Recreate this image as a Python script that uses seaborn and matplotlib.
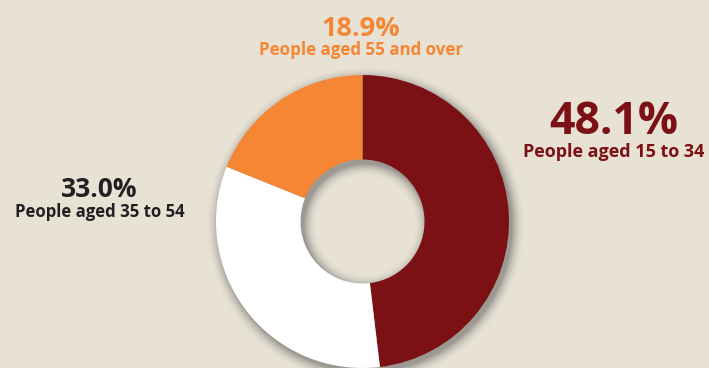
import numpy as np
import matplotlib
matplotlib.use("Agg")
import matplotlib.pyplot as plt
import seaborn as sns

# ---- data ----
groups = ["People aged 15 to 34", "People aged 35 to 54", "People aged 55 and over"]
shares = [48.1, 33.0, 18.9]
pct_labels = ["48.1%", "33.0%", "18.9%"]

BG = "#e8e2d5"
colors = ["#7b1114", "#ffffff", "#f58634"]
text_colors = ["#7b1114", "#231f20", "#f58634"]

sns.set_theme(style="white")
plt.rcParams["font.family"] = ["Open Sans", "DejaVu Sans"]

W, H = 709, 368
fig = plt.figure(figsize=(W / 100, H / 100), dpi=100, facecolor=BG)
ax = fig.add_axes([0, 0, 1, 1])
ax.set_facecolor(BG)
ax.set_xlim(0, W)
ax.set_ylim(0, H)
ax.set_aspect("equal")
ax.axis("off")

cx, cy = 362.5, H - 221.5
R = 146.5
r_in = 62.0

# soft drop shadow (decoration)
xs = np.linspace(0, W, W)
ys = np.linspace(0, H, H)
X, Y = np.meshgrid(xs, ys)
dx, dy = 3.0, -4.0
rr = np.hypot(X - cx - dx, Y - cy - dy)
d = np.maximum(rr - R, r_in - rr)
blur = 14.0
alpha = np.clip(1 - np.clip(d, 0, None) / blur, 0, 1) ** 2 * 0.45
rgba = np.zeros((H, W, 4))
rgba[..., :3] = 0.25
rgba[..., 3] = alpha
ax.imshow(rgba, extent=(0, W, 0, H), origin="lower", zorder=0, interpolation="bilinear")

ax.pie(shares, colors=colors, startangle=90, counterclock=False,
       center=(cx, cy), radius=R, frame=True,
       wedgeprops=dict(width=R - r_in, linewidth=0, edgecolor="none"))
ax.set_xlim(0, W)
ax.set_ylim(0, H)
ax.axis("off")

# labels
ax.text(614, H - 134, pct_labels[0], ha="center", va="baseline", fontsize=32,
        fontweight="bold", color=text_colors[0])
ax.text(614, H - 157, groups[0], ha="center", va="baseline", fontsize=13,
        fontweight="bold", color=text_colors[0])

ax.text(99.5, H - 197, pct_labels[1], ha="center", va="baseline", fontsize=19,
        fontweight="bold", color=text_colors[1])
ax.text(99.5, H - 217, groups[1], ha="center", va="baseline", fontsize=12.1,
        fontweight="bold", color=text_colors[1])

ax.text(361, H - 36, pct_labels[2], ha="center", va="baseline", fontsize=19.5,
        fontweight="bold", color=text_colors[2])
ax.text(361, H - 55, groups[2], ha="center", va="baseline", fontsize=12.2,
        fontweight="bold", color=text_colors[2])

fig.savefig("out.png", dpi=100, facecolor=BG)
